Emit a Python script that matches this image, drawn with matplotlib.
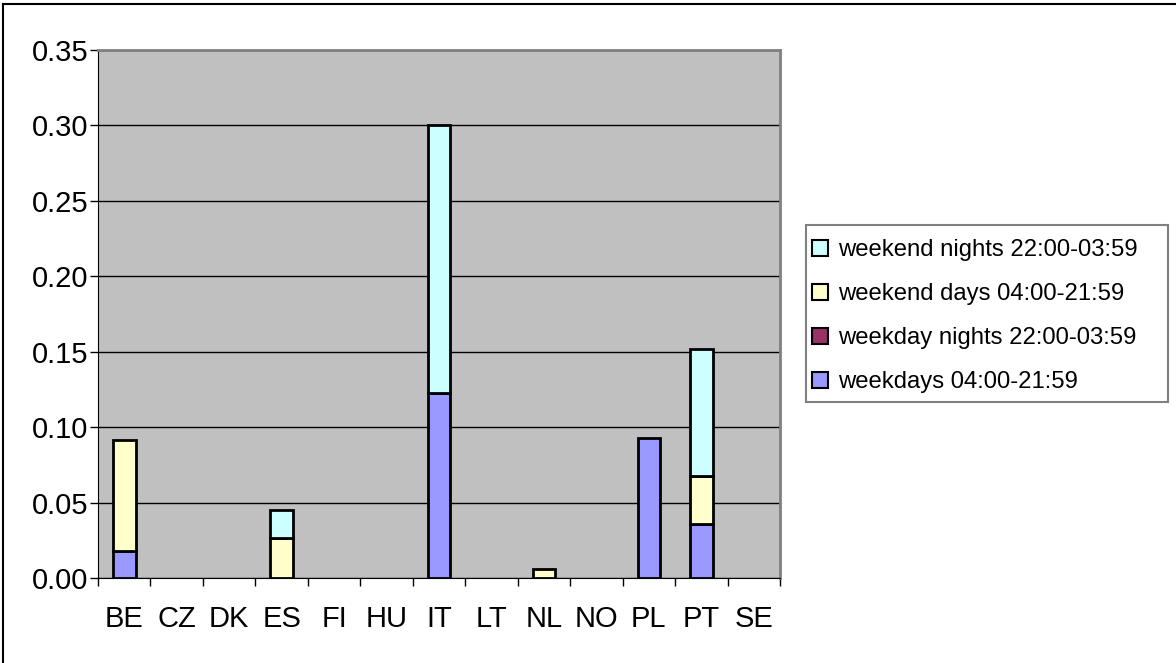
import numpy as np
import matplotlib.pyplot as plt
from matplotlib.patches import Rectangle, Patch
from matplotlib.lines import Line2D

countries = ['BE', 'CZ', 'DK', 'ES', 'FI', 'HU', 'IT', 'LT', 'NL', 'NO', 'PL', 'PT', 'SE']
weekdays = [0.018, 0, 0, 0, 0, 0, 0.1225, 0, 0, 0, 0.0927, 0.0358, 0]
weekday_nights = [0, 0, 0, 0, 0, 0, 0, 0, 0, 0, 0, 0, 0]
weekend_days = [0.0734, 0, 0, 0.0265, 0, 0, 0, 0, 0.006, 0, 0, 0.032, 0]
weekend_nights = [0, 0, 0, 0.0185, 0, 0, 0.178, 0, 0, 0, 0, 0.084, 0]

series = [
    ('weekdays 04:00-21:59', weekdays, '#9999FF'),
    ('weekday nights 22:00-03:59', weekday_nights, '#993366'),
    ('weekend days 04:00-21:59', weekend_days, '#FFFFCC'),
    ('weekend nights 22:00-03:59', weekend_nights, '#CCFFFF'),
]

plt.rcParams['font.family'] = ['Liberation Sans', 'DejaVu Sans']

W, H = 1176, 663
fig = plt.figure(figsize=(W / 100, H / 100), dpi=100)
ax = fig.add_axes([98 / W, 85 / H, 682 / W, 528 / H])
ax.set_facecolor('#C0C0C0')

x = np.arange(len(countries))
bottom = np.zeros(len(countries))
handles = []
for name, vals, col in series:
    vals = np.array(vals)
    nz = vals > 0
    # skip empty segments so no edge line is drawn for zero values
    ax.bar(x[nz], vals[nz], width=0.43, bottom=bottom[nz], color=col,
           edgecolor='black', linewidth=2, zorder=3)
    bottom += vals
    handles.append(Patch(facecolor=col, edgecolor='black', linewidth=1.5, label=name))

ax.set_xlim(-0.5, len(countries) - 0.5)
ax.set_ylim(0, 0.35)
yt = np.arange(0, 0.351, 0.05)
ax.set_yticks(yt)
ax.set_yticklabels([f'{v:.2f}' for v in yt])
ax.yaxis.grid(True, color='black', linewidth=1)
ax.set_axisbelow(True)

ax.set_xticks(x)
ax.set_xticklabels(countries)
ax.set_xticks(np.arange(-0.5, len(countries)), minor=True)
ax.tick_params(axis='x', which='major', length=0, labelsize=21, pad=19.5)
ax.tick_params(axis='x', which='minor', length=6, width=1, color='black')
ax.tick_params(axis='y', length=6, width=1, labelsize=21, pad=1)

for s in ['top', 'right']:
    ax.spines[s].set_color('#808080')
    ax.spines[s].set_linewidth(2)
for s in ['left', 'bottom']:
    ax.spines[s].set_color('black')

leg = fig.legend(handles=handles[::-1], loc='upper left',
                 bbox_to_anchor=(812 / W, 1 - 239 / H),
                 fontsize=17.2, frameon=False,
                 handlelength=0.65, handleheight=0.65, handletextpad=0.45,
                 labelspacing=0.92, borderpad=0, borderaxespad=0)

# legend frame
fig.patches.append(Rectangle((806 / W, 1 - 402 / H), 362 / W, 177 / H,
                             transform=fig.transFigure, fill=False,
                             edgecolor='#808080', linewidth=1.5))

# outer chart border (only top and left visible in the original)
fig.lines.append(Line2D([3 / W, 1], [1 - 4 / H, 1 - 4 / H],
                        transform=fig.transFigure, color='black', linewidth=1.5))
fig.lines.append(Line2D([3 / W, 3 / W], [0, 1 - 4 / H],
                        transform=fig.transFigure, color='black', linewidth=1.5))

fig.savefig('out.png', dpi=100)
